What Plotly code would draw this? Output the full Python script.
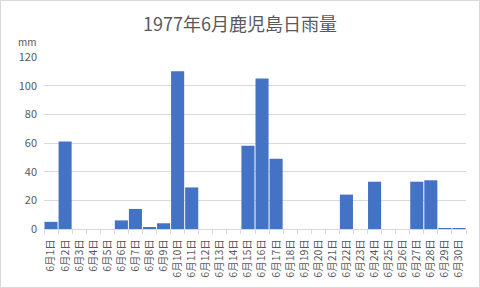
import plotly.graph_objects as go

days = [f"6月{d}日" for d in range(1, 31)]
rain = [5, 61, 0, 0, 0, 6, 14, 1, 4, 110,
        29, 0, 0, 0, 58, 105, 49, 0, 0, 0,
        0, 24, 0, 33, 0, 0, 33, 34, 0.5, 0.5]

font = "Noto Sans CJK JP"
gray = "#595959"

fig = go.Figure(go.Bar(x=days, y=rain, marker=dict(color="#4472C4", line=dict(width=0))))

L, R, T, B, W, H = 44, 14, 57, 59, 480, 288
pw, ph = W - L - R, H - T - B

fig.update_layout(
    width=W, height=H,
    margin=dict(l=L, r=R, t=T, b=B, pad=0, autoexpand=False),
    paper_bgcolor="white", plot_bgcolor="white",
    bargap=0.07,
    showlegend=False,
    title=dict(text="1977年6月鹿児島日雨量", x=0.5, xanchor="center", y=1 - 25 / H, yanchor="middle",
               font=dict(family=font, size=18, color=gray)),
    font=dict(family=font, size=10, color=gray),
    xaxis=dict(type="category", tickangle=-90, tickson="boundaries", ticks="outside", ticklen=4,
               tickcolor="#d9d9d9", showline=True, linecolor="#d9d9d9", linewidth=1,
               ticklabelstandoff=5, automargin=False,
               showgrid=False, tickfont=dict(family=font, size=10.5, color=gray)),
    yaxis=dict(range=[0, 120], dtick=20, showgrid=True, gridcolor="#d9d9d9", gridwidth=1,
               zeroline=False, showline=False, ticks="", ticklabelstandoff=6, automargin=False,
               tickfont=dict(family=font, size=11, color=gray)),
    annotations=[dict(text="mm", xref="paper", yref="paper", x=(27 - L) / pw, y=1 + (T - 41) / ph,
                      xanchor="center", yanchor="middle", showarrow=False,
                      font=dict(family=font, size=10, color=gray))],
    shapes=[dict(type="rect", xref="paper", yref="paper",
                 x0=(0.5 - L) / pw, x1=(W - 0.5 - L) / pw,
                 y0=-(B - 0.5) / ph, y1=1 + (T - 0.5) / ph,
                 line=dict(color="#d9d9d9", width=1))],
)

fig.write_html("out.html")
